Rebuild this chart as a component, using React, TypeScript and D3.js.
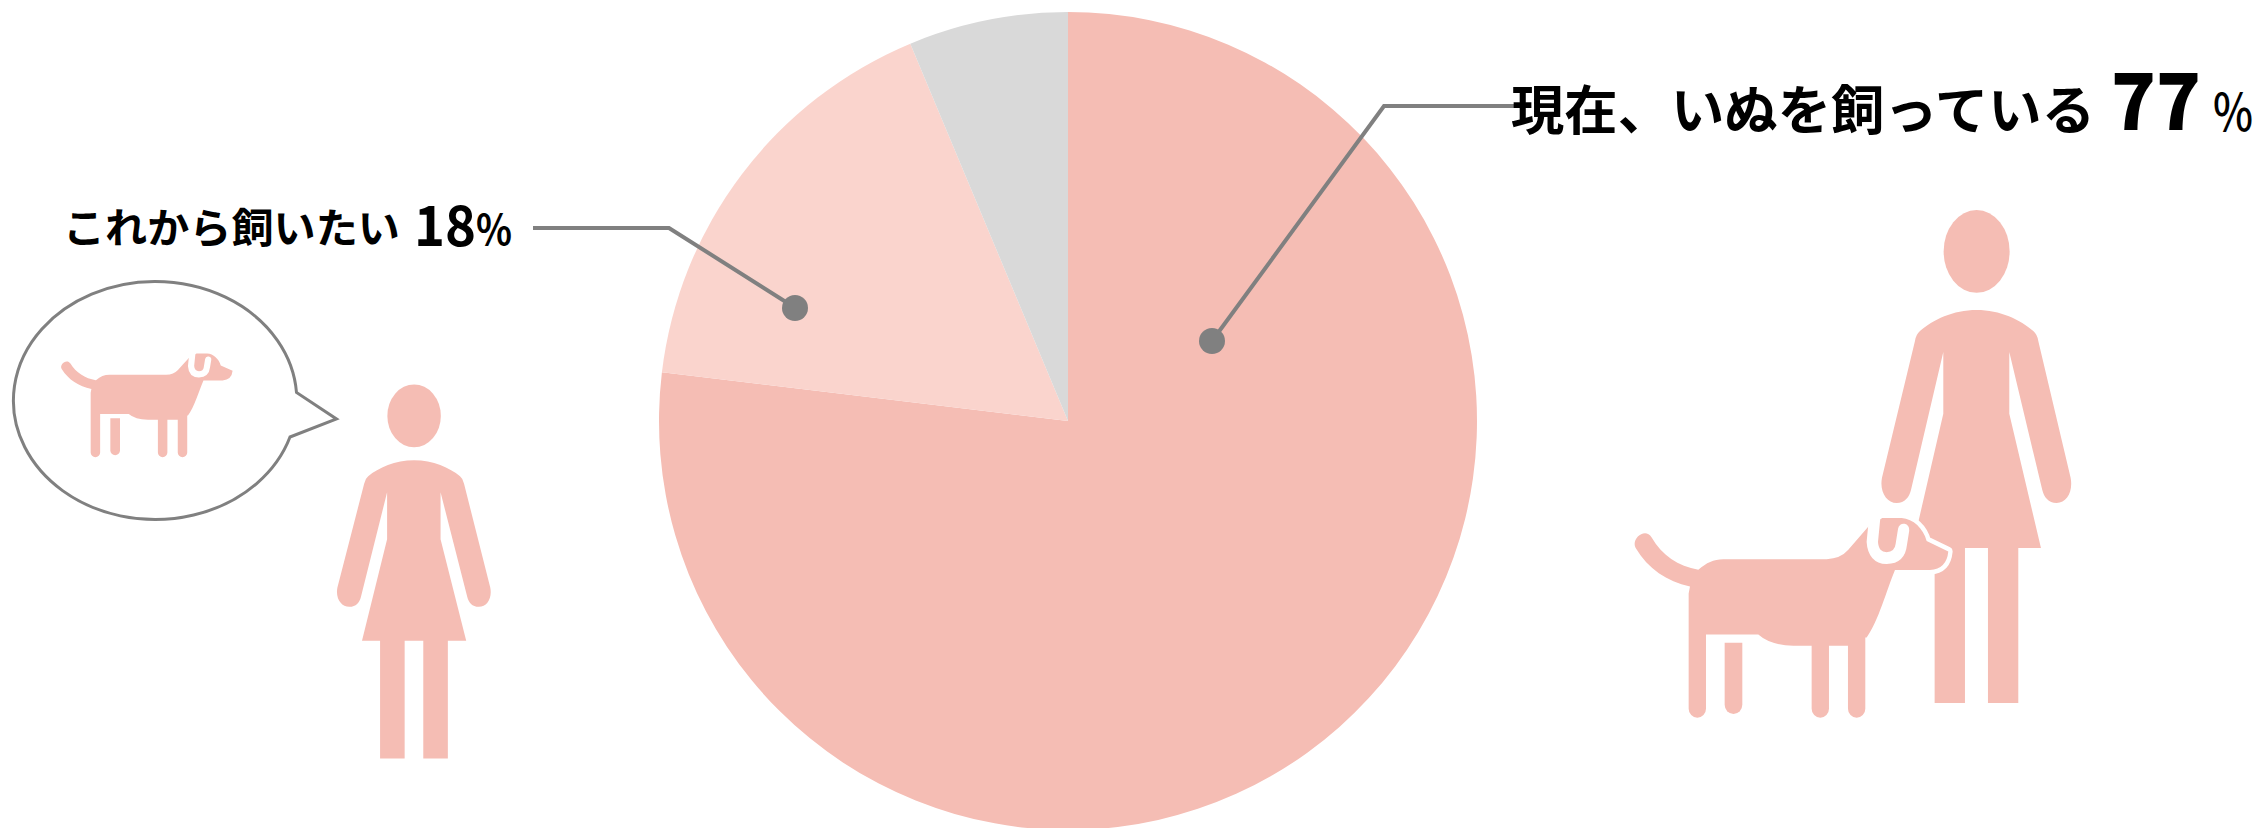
import * as d3 from 'd3'

const W = 2267
const H = 828

// shares as drawn (the printed labels are rounded differently)
const sliceNames = ['現在飼っている', 'これから飼いたい', 'その他']
const sliceValues = [76.9, 16.8, 6.3]
const sliceColors = ['#f5bdb4', '#fad4cd', '#d9d9d9']

const FONT = '"Noto Sans CJK JP", "Noto Sans", sans-serif'
const PINK = '#f5bdb4'
const GREY = '#808080'

// pictograms, traced in one shared local coordinate system
const PERSON_BODY =
  'M1130 342 C1200 342 1262 370 1300 402 Q1312 412 1315 430 L1412 820 C1420 860 1400 892 1370 892 C1345 892 1332 875 1327 855 ' +
  'L1228 462 L1228 638 L1323 1020 L1255 1020 L1255 1462 L1164 1462 L1164 1020 L1095 1020 L1095 1462 L1004 1462 L1004 1020 L937 1020 ' +
  'L1030 638 L1030 462 L933 855 C928 875 915 892 890 892 C860 892 838 860 846 820 L945 430 Q948 412 960 402 C998 370 1060 342 1130 342 Z'

const DOG_BODY =
  'M270 1130 C200 1115 145 1080 107 1020 C92 995 135 960 155 990 C185 1040 235 1072 295 1082 C320 1062 340 1052 370 1052 ' +
  'L680 1052 Q722 1050 745 1025 L806 958 L847 935 L905 935 C940 937 970 965 980 1000 L1045 1030 Q1040 1080 990 1083 L885 1083 ' +
  'C860 1140 835 1230 800 1275 L796 1275 L796 1478 A26 26 0 0 1 744 1478 L744 1299 L687 1299 L687 1478 A26 26 0 0 1 635 1478 ' +
  'L635 1299 L580 1299 Q510 1297 475 1267 L318 1267 L318 1478 A26 26 0 0 1 266 1478 L266 1150 Z'

const DOG_FAR_LEG = 'M374 1290 L427 1290 L427 1467 A26.5 26.5 0 0 1 374 1467 Z'

const DOG_COLLAR = 'M825 925 L817 1003 Q820 1048 860 1049 Q900 1048 904 1010 L911 968'

function Person({ transform }: { transform: string }) {
  return (
    <g transform={transform} fill={PINK}>
      <ellipse cx={1130} cy={175} rx={99} ry={118} />
      <path d={PERSON_BODY} />
    </g>
  )
}

function Dog({ transform, halo }: { transform: string; halo?: boolean }) {
  return (
    <g transform={transform}>
      {halo && <path d={DOG_BODY} fill="#fff" stroke="#fff" strokeWidth={26} strokeLinejoin="round" />}
      <path d={DOG_FAR_LEG} fill={PINK} />
      <path d={DOG_BODY} fill={PINK} />
      <path d={DOG_COLLAR} fill="none" stroke="#fff" strokeWidth={34} strokeLinecap="round" />
    </g>
  )
}

export default function App() {
  const cx = 1068
  const cy = 421
  const radius = 409

  const pie = d3.pie<number>().sort(null)(sliceValues)
  const arc = d3.arc<d3.PieArcDatum<number>>().innerRadius(0).outerRadius(radius)

  const leader = d3.line()
  const rightLeader = leader([[1212, 341], [1384, 106], [1521, 106]])
  const leftLeader = leader([[533, 228], [669, 228], [797, 309]])

  return (
    <svg width={W} height={H} viewBox={`0 0 ${W} ${H}`} style={{ position: 'absolute', left: 0, top: 0, background: '#fff' }}>
      {/* Pie */}
      <g transform={`translate(${cx},${cy})`}>
        {pie.map((d, i) => (
          <path key={sliceNames[i]} d={arc(d) ?? ''} fill={sliceColors[i]} />
        ))}
      </g>

      {/* Leaders */}
      <path d={rightLeader ?? ''} fill="none" stroke={GREY} strokeWidth={4} />
      <path d={leftLeader ?? ''} fill="none" stroke={GREY} strokeWidth={4} />
      <circle cx={1212} cy={341} r={13} fill={GREY} />
      <circle cx={795} cy={308} r={13} fill={GREY} />

      {/* Speech bubble */}
      <path
        d="M290 437 A141.7 119 0 1 1 296.5 392.5 L336.5 419 Z"
        fill="#fff"
        stroke={GREY}
        strokeWidth={3}
        strokeLinejoin="miter"
      />
      <Dog transform="translate(42.2,183.4) scale(0.1822,0.182)" />
      <Person transform="translate(109,369.3) scale(0.27,0.2662)" />

      {/* Right figure */}
      <g>
        <Person transform="translate(1600,190) scale(0.3333,0.3509)" />
        <Dog transform="translate(1600,190) scale(0.3333,0.3509)" halo />
      </g>

      {/* Labels */}
      <g fontFamily={FONT} fill="#000">
        <text x={63} y={243} fontSize={41} fontWeight={700} textLength={337} lengthAdjust="spacingAndGlyphs">
          これから飼いたい
        </text>
        <text x={414} y={246} fontSize={56} fontWeight={700} textLength={62} lengthAdjust="spacingAndGlyphs">
          18
        </text>
        <text x={476} y={245} fontSize={42} fontWeight={700} textLength={36} lengthAdjust="spacingAndGlyphs">
          %
        </text>
        <text x={1511} y={130} fontSize={53} fontWeight={700} textLength={584} lengthAdjust="spacingAndGlyphs">
          現在、いぬを飼っている
        </text>
        <text x={2111} y={130} fontSize={78} fontWeight={900} textLength={90} lengthAdjust="spacingAndGlyphs">
          77
        </text>
        <text x={2213} y={131} fontSize={52} fontWeight={500} textLength={40} lengthAdjust="spacingAndGlyphs">
          %
        </text>
      </g>
    </svg>
  )
}
